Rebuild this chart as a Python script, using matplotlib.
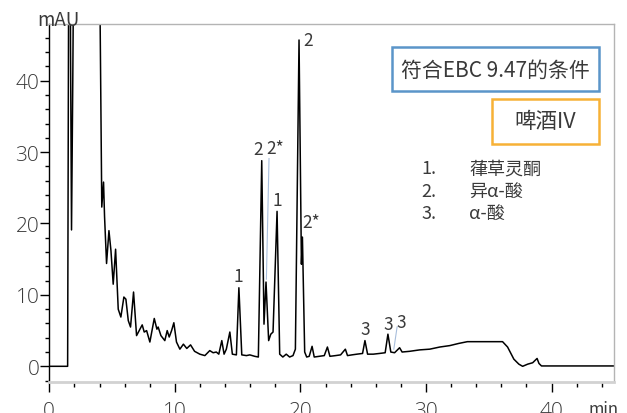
import matplotlib
matplotlib.use("Agg")
import matplotlib.pyplot as plt
from matplotlib.patches import Rectangle

plt.rcParams['font.family'] = ['Noto Sans CJK SC', 'DejaVu Sans']

# chromatogram trace (time in min, signal in mAU)
time_min = [0.0, 1.46, 1.55, 1.64, 1.69, 1.77, 1.87, 1.95, 2.5, 3.5, 3.98, 4.05,
            4.18, 4.32, 4.40, 4.56, 4.75, 4.91, 5.09, 5.28, 5.49, 5.70, 5.94, 6.10,
            6.29, 6.47, 6.71, 6.95, 7.22, 7.40, 7.56, 7.75, 8.01, 8.36, 8.57, 8.67,
            8.89, 9.20, 9.39, 9.55, 9.74, 9.92, 10.13, 10.40, 10.68, 10.95, 11.25, 11.57,
            11.99, 12.39, 12.78, 13.05, 13.30, 13.50, 13.74, 13.92, 14.10, 14.38, 14.58, 14.90,
            15.10, 15.33, 15.70, 15.97, 16.36, 16.65, 16.92, 17.10, 17.26, 17.47, 17.64, 17.82,
            18.14, 18.35, 18.60, 18.87, 19.14, 19.41, 19.60, 19.89, 20.08, 20.16, 20.34, 20.50,
            20.70, 20.93, 21.10, 21.50, 21.90, 22.15, 22.35, 22.80, 23.20, 23.58, 23.75, 24.10,
            24.50, 24.95, 25.14, 25.35, 25.80, 26.30, 26.75, 26.97, 27.20, 27.50, 27.90, 28.10,
            28.70, 29.50, 30.30, 31.10, 31.90, 32.60, 33.30, 34.50, 36.10, 36.50, 37.00, 37.40,
            37.70, 38.10, 38.50, 38.85, 39.00, 39.20, 45.0]
signal_mau = [0.0, 0.0, 60, 120, 45, 19.1, 40, 60, 250, 200, 60, 48,
              22.3, 25.8, 21.0, 14.4, 19.0, 16.2, 11.5, 16.4, 8.0, 6.9, 9.7, 9.4,
              6.4, 5.5, 10.4, 4.3, 5.2, 5.8, 4.8, 5.0, 3.4, 6.7, 5.2, 5.5,
              4.3, 3.6, 5.0, 4.1, 5.0, 6.1, 3.4, 2.4, 3.1, 2.5, 3.0, 2.1,
              1.7, 1.5, 2.2, 1.9, 2.0, 1.7, 3.6, 1.7, 2.4, 4.8, 1.7, 1.6,
              11.0, 1.6, 1.5, 1.6, 1.4, 1.3, 28.8, 5.9, 11.8, 3.6, 4.5, 4.8,
              21.7, 1.7, 1.3, 1.7, 1.3, 1.5, 2.4, 45.7, 14.3, 18.1, 2.0, 1.3,
              1.4, 2.8, 1.3, 1.4, 1.5, 2.7, 1.4, 1.5, 1.6, 2.4, 1.5, 1.6,
              1.7, 1.8, 3.6, 1.7, 1.7, 1.8, 1.9, 4.5, 2.0, 1.9, 2.6, 2.0,
              2.1, 2.3, 2.4, 2.7, 2.9, 3.2, 3.45, 3.45, 3.45, 2.7, 1.0, 0.3,
              0.0, 0.3, 0.5, 1.1, 0.4, 0.05, 0.05]

peak_labels = ['1', '2', '2*', '1', '2', '2*', '3', '3', '3']
peak_label_t = [15.02, 16.62, 18.02, 18.15, 20.6, 20.87, 25.18, 26.99, 28.05]
peak_label_y = [12.7, 30.5, 30.6, 23.3, 45.7, 20.2, 5.2, 5.9, 6.25]

legend_nums = ['1.', '2.', '3.']
legend_names = ['葎草灵酮', '异α-酸', 'α-酸']
method_text = '符合EBC 9.47的条件'
sample_text = '啤酒IV'

W, H = 627, 414
fig = plt.figure(figsize=(W / 100, H / 100), dpi=100)
ax = fig.add_axes([49.3 / W, 1 - 383.3 / H, 565 / W, 358.3 / H])

ax.plot(time_min, signal_mau, color='black', lw=1.1)
ax.set_xlim(0, 45)
ax.set_ylim(-2.24, 47.94)

txt = '#3a3a3a'
ax.set_xticks([0, 10, 20, 30, 40])
ax.set_xticks(range(2, 45, 2), minor=True)
ax.set_yticks([0, 10, 20, 30, 40])
ax.set_yticks(range(-2, 48, 2), minor=True)
ax.tick_params(axis='x', which='major', length=7.2, width=1, color='black', pad=6,
               labelsize=15, labelcolor=txt)
ax.tick_params(axis='x', which='minor', length=3.6, width=1, color='black')
ax.tick_params(axis='y', which='major', length=6.2, width=1, color='black', pad=1,
               labelsize=15, labelcolor=txt)
ax.tick_params(axis='y', which='minor', length=3.1, width=1, color='black')
for lab in ax.get_xticklabels() + ax.get_yticklabels():
    lab.set_family(['Open Sans', 'DejaVu Sans'])
    lab.set_fontweight('light')

ax.spines['left'].set_color('black')
ax.spines['left'].set_linewidth(1.0)
for s in ['top', 'right']:
    ax.spines[s].set_color('#b4b4b4')
    ax.spines[s].set_linewidth(1.0)
ax.spines['bottom'].set_color('#d2d2d2')
ax.spines['bottom'].set_linewidth(2.0)

for lab, t, y in zip(peak_labels, peak_label_t, peak_label_y):
    ax.text(t, y, lab, ha='center', va='center', fontsize=12.5, color=txt)

# leader lines
ax.plot([17.5, 17.29], [29.1, 12.2], color='#a8bedc', lw=0.8)
ax.plot([27.7, 27.44], [5.5, 2.4], color='#a8bedc', lw=0.8)

def fx(px):
    return px / W

def fy(py):
    return 1 - py / H

fig.text(fx(58.3), fy(25.5), 'mAU', ha='center', va='baseline', fontsize=13.5, color=txt)
fig.text(fx(603), fy(401), 'min', ha='center', va='top', fontsize=12, color=txt)

# boxes
fig.patches.append(Rectangle((fx(392.3), fy(92.3)), (599.3 - 392.3) / W, 44 / H,
                             transform=fig.transFigure, fill=False,
                             edgecolor='#5b95c9', lw=1.8))
fig.text(fx(495.8), fy(70.3), method_text, ha='center', va='center', fontsize=15, color=txt)
fig.patches.append(Rectangle((fx(491.7), fy(145)), (599.3 - 491.7) / W, 45 / H,
                             transform=fig.transFigure, fill=False,
                             edgecolor='#f7b136', lw=1.8))
fig.text(fx(545.5), fy(122.5), sample_text, ha='center', va='center', fontsize=15.5, color=txt)

for i, (num, name) in enumerate(zip(legend_nums, legend_names)):
    yy = 169.5 + i * 22.1
    fig.text(fx(421.7), fy(yy), num, ha='left', va='center', fontsize=13, color=txt)
    fig.text(fx(469), fy(yy), name, ha='left', va='center', fontsize=13, color=txt)

fig.savefig('out.png', dpi=100)
